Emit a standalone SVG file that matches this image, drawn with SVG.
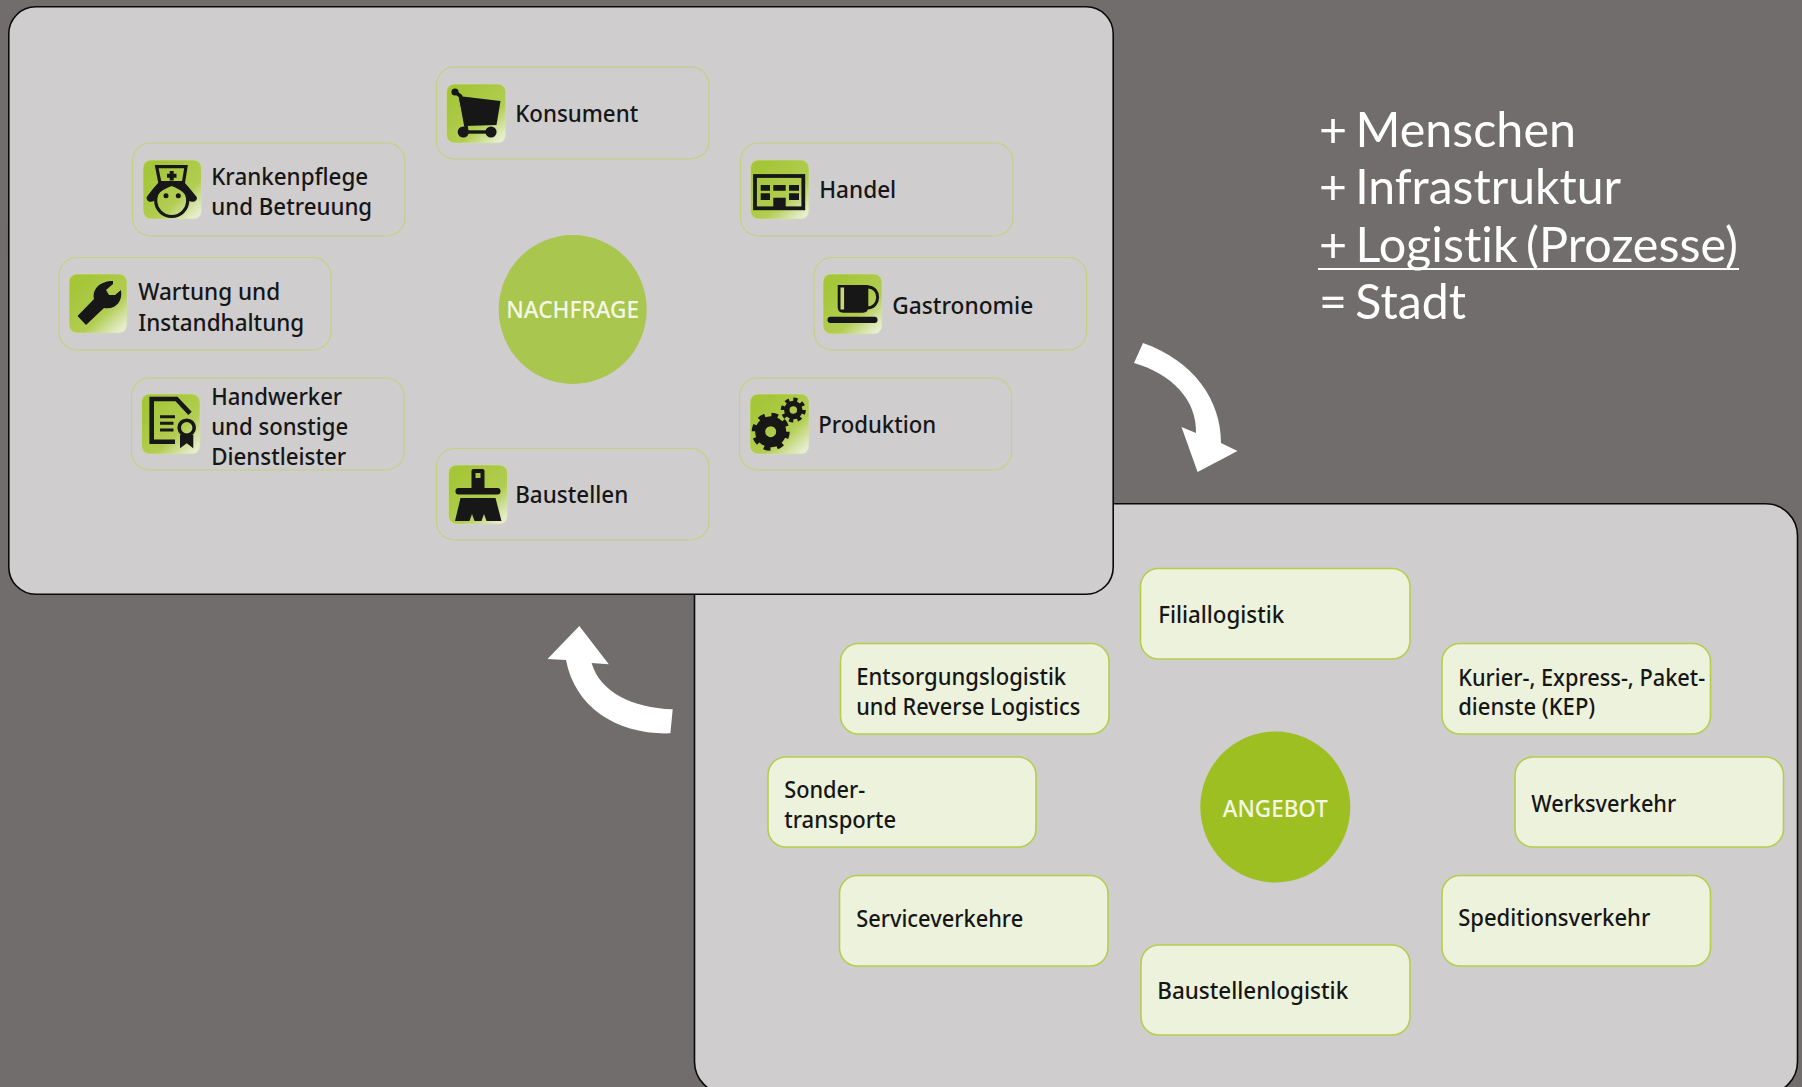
<svg xmlns="http://www.w3.org/2000/svg" width="1802" height="1087" viewBox="0 0 1802 1087">
<style>
.panel{fill:#cfcdce;stroke:#0a0a0a;stroke-width:1.6}
.dn{fill:#cfcdce;stroke:#c3d27c;stroke-width:1.1}
.sn{fill:#edf2dc;stroke:#b6cd4c;stroke-width:1.6}
.ib{fill:url(#ig);stroke:#d5dcae;stroke-width:.6}
.lb{font-family:"Noto Sans","Open Sans",sans-serif;font-size:23px;font-weight:500;fill:#161616;transform:translate(-.8px,.8px)}
.ct{font-family:"Noto Sans","Open Sans",sans-serif;font-size:24px;font-weight:500;fill:#f4f7e6;text-anchor:middle}
.st{font-family:Lato,"Open Sans",sans-serif;font-size:48px;fill:#fff;font-variant-ligatures:none;word-spacing:-4px}
.d{fill:#171717}
.o{fill:none;stroke:#171717}
.arrow{fill:#fff}
</style>
<defs>
<linearGradient id="ig" x1="0.25" y1="0.15" x2="1" y2="1">
<stop offset="0" stop-color="#a6c63a"/><stop offset=".55" stop-color="#b2cd52"/><stop offset=".85" stop-color="#dfe9bd"/><stop offset="1" stop-color="#f0f3e4"/>
</linearGradient>
</defs>
<rect width="1802" height="1087" fill="#716d6d"/>

<g id="panel-angebot"><rect class="panel" x="694.5" y="503.8" width="1103" height="590" rx="32"/></g>
<g id="panel-nachfrage"><rect class="panel" x="8.8" y="6.8" width="1104.4" height="587.4" rx="27"/></g>

<g id="connectors">
<path class="arrow" d="M1143,343 C1194,361 1221,400 1221,443 L1237.5,451 L1197.6,472 L1181.5,427 L1196,433 C1197,400 1172,374 1134,363 Z"/>
<path class="arrow" d="M672.7,709.3 C632,708 600,692 591.6,663 L608.8,664.3 L579.3,626 L547.5,659 L566,660 C575,708 618,735 670.4,733.3 Z"/>
</g>

<g id="nachfrage"><ellipse cx="572.7" cy="309.5" rx="74" ry="74.5" fill="#a9c64f"/><text class="ct" x="572.7" y="318" textLength="133" lengthAdjust="spacingAndGlyphs">NACHFRAGE</text></g>
<g id="angebot"><ellipse cx="1275.3" cy="807" rx="75" ry="75.5" fill="#9dbf22"/><text class="ct" x="1275.3" y="817" textLength="105" lengthAdjust="spacingAndGlyphs">ANGEBOT</text></g>

<g id="konsument"><rect class="dn" x="436.5" y="67" width="272.5" height="92" rx="18"/>
<g transform="translate(446.5 84)"><rect class="ib" width="59.3" height="59" rx="8"/>
<path class="d" d="M12,12 L54,17 L50,41 L18.5,42 Z"/><circle class="d" cx="8.5" cy="8" r="3.6"/><path class="o" stroke-width="3.6" d="M8.5,8 L14,12 L20,45"/><path class="o" stroke-width="3.4" d="M17,48 H44.5"/><circle class="d" cx="16.8" cy="48" r="5.6"/><circle class="d" cx="44.5" cy="48" r="5.6"/></g>
<text class="lb" x="516" y="121" textLength="123" lengthAdjust="spacingAndGlyphs">Konsument</text></g>

<g id="handel"><rect class="dn" x="740.5" y="143" width="272.5" height="93" rx="18"/>
<g transform="translate(750.5 160)"><rect class="ib" width="58.5" height="59" rx="8"/>
<rect class="o" stroke-width="3.8" x="4.5" y="16" width="48.3" height="32.3"/>
<path class="d" d="M10.2,25h9.3v5.7h-9.3zM22.8,25h12.4v5.7H22.8zM38.5,25h10v5.7h-10zM10.2,33.3h9.3V40h-9.3zM38.5,33.3h10V40h-10zM22.8,37.7h12.4v10.6H22.8z"/></g>
<text class="lb" x="820" y="197" textLength="77" lengthAdjust="spacingAndGlyphs">Handel</text></g>

<g id="gastronomie"><rect class="dn" x="814" y="257.5" width="272.5" height="92.5" rx="18"/>
<g transform="translate(823 274)"><rect class="ib" width="59" height="60" rx="8"/>
<path class="d" d="M14.7,11H45.3V33Q45.3,38.7 40,38.7H20Q14.7,38.7 14.7,33Z"/><rect x="17.5" y="13.5" width="3.6" height="22" fill="#c4d778"/>
<path class="o" stroke-width="3" d="M45,13 C58,13 58,34 44,34"/><rect class="d" x="4.5" y="42.7" width="50" height="6.4" rx="3"/></g>
<text class="lb" x="893" y="313" textLength="141" lengthAdjust="spacingAndGlyphs">Gastronomie</text></g>

<g id="produktion"><rect class="dn" x="739.5" y="378" width="272" height="92" rx="18"/>
<g transform="translate(750 394)"><rect class="ib" width="59" height="60" rx="8"/>
<circle class="o" cx="20.7" cy="37.7" r="10.5" stroke-width="10"/><circle class="o" cx="20.7" cy="37.7" r="16" stroke-width="6" stroke-dasharray="6.3 6.3"/>
<circle class="o" cx="43.3" cy="16" r="6.5" stroke-width="5.5"/><circle class="o" cx="43.3" cy="16" r="10.5" stroke-width="4" stroke-dasharray="4.1 4.1"/></g>
<text class="lb" x="819" y="432" textLength="118" lengthAdjust="spacingAndGlyphs">Produktion</text></g>

<g id="baustellen"><rect class="dn" x="436.5" y="448.5" width="272.5" height="91.5" rx="18"/>
<g transform="translate(448.5 465)"><rect class="ib" width="59" height="59" rx="8"/>
<path class="d" fill-rule="evenodd" d="M23,6Q23,4 25,4H34Q36,4 36,6V23H23ZM27,8V13H32V8Z"/><rect class="d" x="7" y="23" width="45" height="6.6" rx="3"/>
<path class="d" d="M12,33H47L53,56H38L35.5,49L33,56H26L23.5,49L21,56H6.5Z"/></g>
<text class="lb" x="516" y="502" textLength="113" lengthAdjust="spacingAndGlyphs">Baustellen</text></g>

<g id="krankenpflege"><rect class="dn" x="132.5" y="143" width="272.5" height="93" rx="18"/>
<g transform="translate(143 160)"><rect class="ib" width="58.5" height="59" rx="8"/>
<path class="o" stroke-width="3.2" d="M13.7,6.7H43L40.3,23.3H17Z"/><path class="d" d="M26.7,11H30.7V13.7H33.5V17.7H30.7V20.5H26.7V17.7H24V13.7H26.7Z"/>
<path class="d" d="M17,21 C12,26 9,30 3.7,37 C3,41 7,43 11,41 C13,34 20,29 28.7,26 C37,29 44,34 46,41 C50,43 55,41 53.7,37 C48,30 45,26 40,21 Z"/>
<circle class="o" cx="28.7" cy="40.5" r="16" stroke-width="3.2"/><circle class="d" cx="23" cy="35.7" r="2.5"/><circle class="d" cx="35.3" cy="35.7" r="2.5"/></g>
<text class="lb" x="212" y="184" textLength="157" lengthAdjust="spacingAndGlyphs">Krankenpflege</text><text class="lb" x="212" y="214" textLength="161" lengthAdjust="spacingAndGlyphs">und Betreuung</text></g>

<g id="wartung"><rect class="dn" x="59" y="257.5" width="272" height="92.5" rx="18"/>
<g transform="translate(69 274)"><rect class="ib" width="58" height="59" rx="8"/>
<path class="d" d="M8.5,42 L25,25 C23,15 31,7 44,7 L44,10 L37,16 L40,21 L46,21 L52,16 C54,28 46,36 35,34 L17,51 Z"/></g>
<text class="lb" x="139" y="299" textLength="142" lengthAdjust="spacingAndGlyphs">Wartung und</text><text class="lb" x="139" y="330" textLength="166" lengthAdjust="spacingAndGlyphs">Instandhaltung</text></g>

<g id="handwerker"><rect class="dn" x="131.5" y="378" width="272.5" height="92" rx="18"/>
<g transform="translate(141.5 394)"><rect class="ib" width="58.5" height="60" rx="8"/>
<path class="o" stroke-width="4.6" d="M33.5,47.7H10.2V5H35L48.5,19.3"/><path class="o" stroke-width="3" d="M18.5,22.7H33.5M18.5,29.3H32M18.5,36H32"/>
<circle class="o" cx="45.2" cy="33.7" r="7.5" stroke-width="3.6"/><path class="d" d="M38.5,41H51.8V54.3L45.2,49.3L38.5,54.3Z"/></g>
<text class="lb" x="212" y="404" textLength="131" lengthAdjust="spacingAndGlyphs">Handwerker</text><text class="lb" x="212" y="434" textLength="137" lengthAdjust="spacingAndGlyphs">und sonstige</text><text class="lb" x="212" y="464" textLength="135" lengthAdjust="spacingAndGlyphs">Dienstleister</text></g>

<g id="filiallogistik"><rect class="sn" x="1140.5" y="568.5" width="269.5" height="90.5" rx="18"/><text class="lb" x="1159" y="622" textLength="126" lengthAdjust="spacingAndGlyphs">Filiallogistik</text></g>
<g id="kep"><rect class="sn" x="1442" y="643.5" width="268.5" height="90.5" rx="18"/><text class="lb" x="1459" y="685" textLength="247" lengthAdjust="spacingAndGlyphs">Kurier-, Express-, Paket-</text><text class="lb" x="1459" y="714" textLength="137" lengthAdjust="spacingAndGlyphs">dienste (KEP)</text></g>
<g id="entsorgung"><rect class="sn" x="840.5" y="643.5" width="268.5" height="90.5" rx="18"/><text class="lb" x="857" y="684" textLength="210" lengthAdjust="spacingAndGlyphs">Entsorgungslogistik</text><text class="lb" x="857" y="714" textLength="224" lengthAdjust="spacingAndGlyphs">und Reverse Logistics</text></g>
<g id="sondertransporte"><rect class="sn" x="768" y="757" width="268" height="90" rx="18"/><text class="lb" x="785" y="797" textLength="81" lengthAdjust="spacingAndGlyphs">Sonder-</text><text class="lb" x="785" y="827" textLength="112" lengthAdjust="spacingAndGlyphs">transporte</text></g>
<g id="werksverkehr"><rect class="sn" x="1515" y="757" width="268.5" height="90" rx="18"/><text class="lb" x="1532" y="811" textLength="145" lengthAdjust="spacingAndGlyphs">Werksverkehr</text></g>
<g id="serviceverkehre"><rect class="sn" x="839.5" y="875.5" width="268.5" height="90.5" rx="18"/><text class="lb" x="857" y="926" textLength="167" lengthAdjust="spacingAndGlyphs">Serviceverkehre</text></g>
<g id="speditionsverkehr"><rect class="sn" x="1442" y="875.5" width="268.5" height="90.5" rx="18"/><text class="lb" x="1459" y="925" textLength="192" lengthAdjust="spacingAndGlyphs">Speditionsverkehr</text></g>
<g id="baustellenlogistik"><rect class="sn" x="1141" y="945" width="269" height="90" rx="18"/><text class="lb" x="1158" y="998" textLength="191" lengthAdjust="spacingAndGlyphs">Baustellenlogistik</text></g>

<g id="summe">
<text class="st" x="1319" y="147" textLength="257" lengthAdjust="spacingAndGlyphs">+ Menschen</text>
<text class="st" x="1319" y="204" textLength="302" lengthAdjust="spacingAndGlyphs">+ Infrastruktur</text>
<text class="st" x="1319" y="262" textLength="419" lengthAdjust="spacingAndGlyphs">+ Logistik (Prozesse)</text>
<line x1="1318" y1="269" x2="1739" y2="269" stroke="#fff" stroke-width="2"/>
<text class="st" x="1319" y="319" textLength="147" lengthAdjust="spacingAndGlyphs">= Stadt</text>
</g>
</svg>
